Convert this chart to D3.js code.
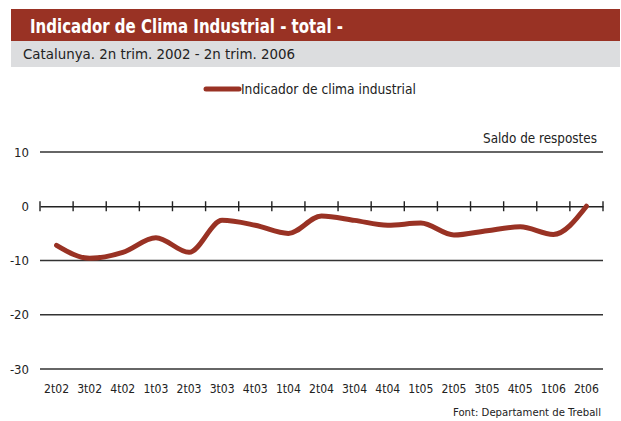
<!DOCTYPE html>
<html>
<head>
<meta charset="utf-8">
<script src="https://cdn.jsdelivr.net/npm/d3@7"></script>
<style>
  body { margin: 0; background: #fff; }
  text { font-family: "DejaVu Sans Condensed", "Liberation Sans Narrow", sans-serif; }
</style>
</head>
<body>
<script>
// dades: indicador de clima industrial (saldo de respostes)
var trimestres = ["2t02","3t02","4t02","1t03","2t03","3t03","4t03","1t04","2t04","3t04","4t04","1t05","2t05","3t05","4t05","1t06","2t06"];
var clima = [-7.2, -9.6, -8.5, -5.8, -8.5, -2.6, -3.5, -5.0, -1.8, -2.6, -3.5, -3.1, -5.3, -4.5, -3.8, -5.2, 0];
var yTicks = [10, 0, -10, -20, -30];

var width = 621, height = 421;
var vermell = "#993224";

var svg = d3.select("body").append("svg")
  .attr("width", width)
  .attr("height", height);

// capçalera
svg.append("rect").attr("x", 11).attr("y", 9).attr("width", 609).attr("height", 32)
  .attr("fill", vermell);
svg.append("rect").attr("x", 11).attr("y", 41).attr("width", 609).attr("height", 26)
  .attr("fill", "#dcdddf");
svg.append("text").attr("x", 30).attr("y", 33)
  .attr("fill", "#fff").attr("font-weight", "bold").attr("font-size", 20)
  .attr("textLength", 313).attr("lengthAdjust", "spacingAndGlyphs")
  .text("Indicador de Clima Industrial - total -");
svg.append("text").attr("x", 23).attr("y", 59)
  .attr("fill", "#222").attr("font-size", 14.5)
  .attr("textLength", 272).attr("lengthAdjust", "spacingAndGlyphs")
  .text("Catalunya. 2n trim. 2002 - 2n trim. 2006");

// escales
var x = d3.scaleBand().domain(trimestres).range([40, 603]);
var y = d3.scaleLinear().domain([-30, 10]).range([369, 152]);

// línies horitzontals
svg.selectAll(".grid")
  .data(yTicks.filter(d => d != 0))
  .enter().append("line")
  .attr("class", "grid")
  .attr("x1", 40).attr("x2", 603)
  .attr("y1", d => y(d)).attr("y2", d => y(d))
  .attr("stroke", "#333").attr("stroke-width", 1.4);

// eix y: etiquetes
svg.selectAll(".ylab")
  .data(yTicks)
  .enter().append("text")
  .attr("class", "ylab")
  .attr("x", 29).attr("y", d => y(d) + 4.5)
  .attr("text-anchor", "end")
  .attr("font-size", 13).attr("fill", "#222")
  .text(d => d);

// eix del zero amb marques entre trimestres
var axis = d3.axisBottom(x).tickSize(0).tickFormat("");
svg.append("g")
  .attr("transform", "translate(0," + y(0) + ")")
  .call(axis)
  .call(g => g.select(".domain").attr("stroke", "#222").attr("stroke-width", 1.4));

var marques = trimestres.map(d => x(d)).concat([x.range()[1]]);
svg.selectAll(".marca")
  .data(marques)
  .enter().append("line")
  .attr("class", "marca")
  .attr("x1", d => d).attr("x2", d => d)
  .attr("y1", y(0) - 5).attr("y2", y(0) + 5)
  .attr("stroke", "#222").attr("stroke-width", 1.4);

// etiquetes x
svg.selectAll(".xlab")
  .data(trimestres)
  .enter().append("text")
  .attr("class", "xlab")
  .attr("x", d => x(d) + x.bandwidth() / 2)
  .attr("y", 393)
  .attr("text-anchor", "middle")
  .attr("font-size", 13).attr("fill", "#222")
  .attr("textLength", 25).attr("lengthAdjust", "spacingAndGlyphs")
  .text(d => d);

// sèrie
var line = d3.line()
  .x((d, i) => x(trimestres[i]) + x.bandwidth() / 2)
  .y(d => y(d))
  .curve(d3.curveMonotoneX);

svg.append("path")
  .datum(clima)
  .attr("d", line)
  .attr("fill", "none")
  .attr("stroke", vermell)
  .attr("stroke-width", 5)
  .attr("stroke-linecap", "round");

// llegenda
svg.append("line").attr("x1", 206).attr("x2", 239).attr("y1", 89).attr("y2", 89)
  .attr("stroke", vermell).attr("stroke-width", 5).attr("stroke-linecap", "round");
svg.append("text").attr("x", 241).attr("y", 94)
  .attr("font-size", 13.5).attr("fill", "#222")
  .attr("textLength", 175).attr("lengthAdjust", "spacingAndGlyphs")
  .text("Indicador de clima industrial");

// unitats i font
svg.append("text").attr("x", 597).attr("y", 143)
  .attr("text-anchor", "end").attr("font-size", 13.5).attr("fill", "#222")
  .attr("textLength", 114).attr("lengthAdjust", "spacingAndGlyphs")
  .text("Saldo de respostes");
svg.append("text").attr("x", 601).attr("y", 416)
  .attr("text-anchor", "end").attr("font-size", 11).attr("fill", "#222")
  .attr("textLength", 148).attr("lengthAdjust", "spacingAndGlyphs")
  .text("Font: Departament de Treball");
</script>
</body>
</html>
